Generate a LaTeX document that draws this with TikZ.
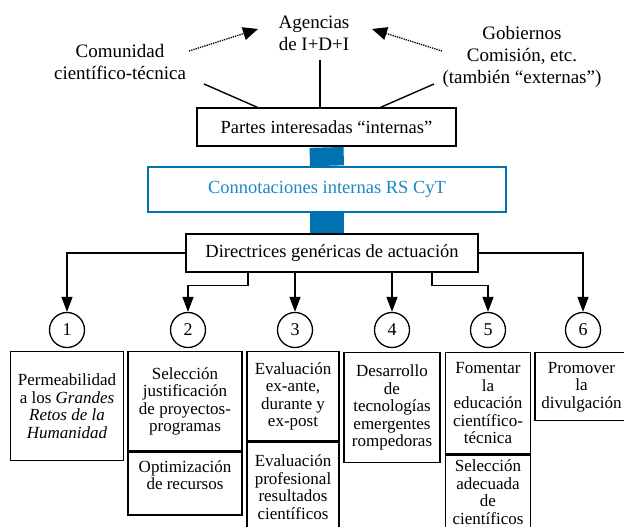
\documentclass[tikz,border=0pt]{standalone}
\usepackage{fontspec}
\setmainfont{Liberation Serif}
\usetikzlibrary{arrows.meta, positioning}

\definecolor{cytblue}{RGB}{0,114,178}
\definecolor{cyttext}{RGB}{28,134,198}

\begin{document}
\begin{tikzpicture}[
        x=1pt, y=-1pt,
        party/.style={align=center, font=\fontsize{19}{22}\selectfont},
        head/.style={draw, line width=1.4pt, inner sep=0pt, font=\fontsize{18.5}{22}\selectfont},
        num/.style={circle, draw, line width=1.3pt, minimum size=35pt, inner sep=0pt, font=\fontsize{18}{20}\selectfont},
        cell/.style={draw, line width=1.3pt, align=center, inner sep=0pt, font=\fontsize{17}{17.5}\selectfont},
        link/.style={line width=1.4pt},
        arrow/.style={-{Triangle[length=15pt, width=11pt]}, line width=1.3pt},
        hint/.style={-{Triangle[length=15pt, width=13pt]}, densely dotted, line width=1.3pt},
        bar/.style={draw=cytblue, line width=34pt}
    ]
        \useasboundingbox (0,0) rectangle (624,527);

        % Stakeholders
        \node[party] (agencias) at (314,33) {Agencias\\de I+D+I};
        \node[party] (comunidad) at (120,62) {Comunidad\\científico-técnica};
        \node[party] (gobiernos) at (522,57) {Gobiernos\\Comisión, etc.\\(también “externas”)};

        % Central column
        \node[head, minimum width=259pt, minimum height=38pt] (partes) at (326.5,127) {Partes interesadas “internas”};
        \node[head, draw=cytblue, line width=2.4pt, text=cyttext, minimum width=358pt, minimum height=45pt] (conn) at (327,189.5) {Connotaciones internas RS CyT};
        \node[head, minimum width=292pt, minimum height=38pt] (dir) at (332,253) {Directrices genéricas de actuación};

        % Numbered lines of action
        \foreach \i/\x in {1/67, 2/188, 3/295, 4/392, 5/488, 6/583}
            \node[num] (n\i) at (\x,330) {\i};

        \node[cell, minimum width=113pt, minimum height=109pt, below=3pt of n1] (b1)
            {Permeabilidad\\a los \textit{Grandes}\\\textit{Retos de la}\\\textit{Humanidad}};
        \node[cell, minimum width=114pt, minimum height=99pt, below=3pt of n2, xshift=-3pt] (b2a)
            {Selección\\justificación\\de proyectos-\\programas};
        \node[cell, minimum width=114pt, minimum height=63pt, below=0pt of b2a] (b2b)
            {Optimización\\de recursos\\~};
        \node[cell, minimum width=92pt, minimum height=89pt, below=3pt of n3, xshift=-2pt] (b3a)
            {Evaluación\\ex-ante,\\durante y\\ex-post};
        \node[cell, minimum width=92pt, minimum height=90pt, below=0pt of b3a] (b3b)
            {Evaluación\\profesional\\resultados\\científicos};
        \node[cell, minimum width=96pt, minimum height=110pt, below=4pt of n4] (b4)
            {Desarrollo\\de\\tecnologías\\emergentes\\rompedoras};
        \node[cell, minimum width=85pt, minimum height=101pt, below=4pt of n5] (b5a)
            {Fomentar\\la\\educación\\científico-\\técnica};
        \node[cell, minimum width=85pt, minimum height=74pt, below=0pt of b5a] (b5b)
            {Selección\\adecuada\\de\\científicos};
        \node[cell, minimum width=93pt, minimum height=68pt, below=4pt of n6, xshift=-1.5pt] (b6)
            {Promover\\la\\divulgación};

        % Lines into the top box
        \coordinate (cl) at (204,84);
        \coordinate (cm) at (320,60);
        \coordinate (cr) at (434,84);
        \draw[link] (cl) -- ([xshift=61pt]partes.north west);
        \draw[link] (cm) -- (cm |- partes.north);
        \draw[link] (cr) -- ([xshift=-76pt]partes.north east);

        % Dotted arrows towards the agencies
        \coordinate (dl) at (189,51);
        \coordinate (dlt) at (258,29);
        \coordinate (dr) at (442,51);
        \coordinate (drt) at (372,29);
        \draw[hint] (dl) -- (dlt);
        \draw[hint] (dr) -- (drt);

        % Blue links
        \draw[bar, shorten <=0.7pt] (partes.south) -- (conn.north);
        \draw[bar] (conn.south) -- ([yshift=0.7pt]conn.south |- dir.north);

        % Arrows
        \draw[arrow] (dir.west) -| (n1);
        \draw[arrow] ([xshift=-84pt]dir.south) -- ++(0,13) -| (n2);
        \draw[arrow] (n3 |- dir.south) -- (n3);
        \draw[arrow] (n4 |- dir.south) -- (n4);
        \draw[arrow] ([xshift=100pt]dir.south) -- ++(0,13) -| (n5);
        \draw[arrow] (dir.east) -| (n6);

    \end{tikzpicture}
\end{document}
